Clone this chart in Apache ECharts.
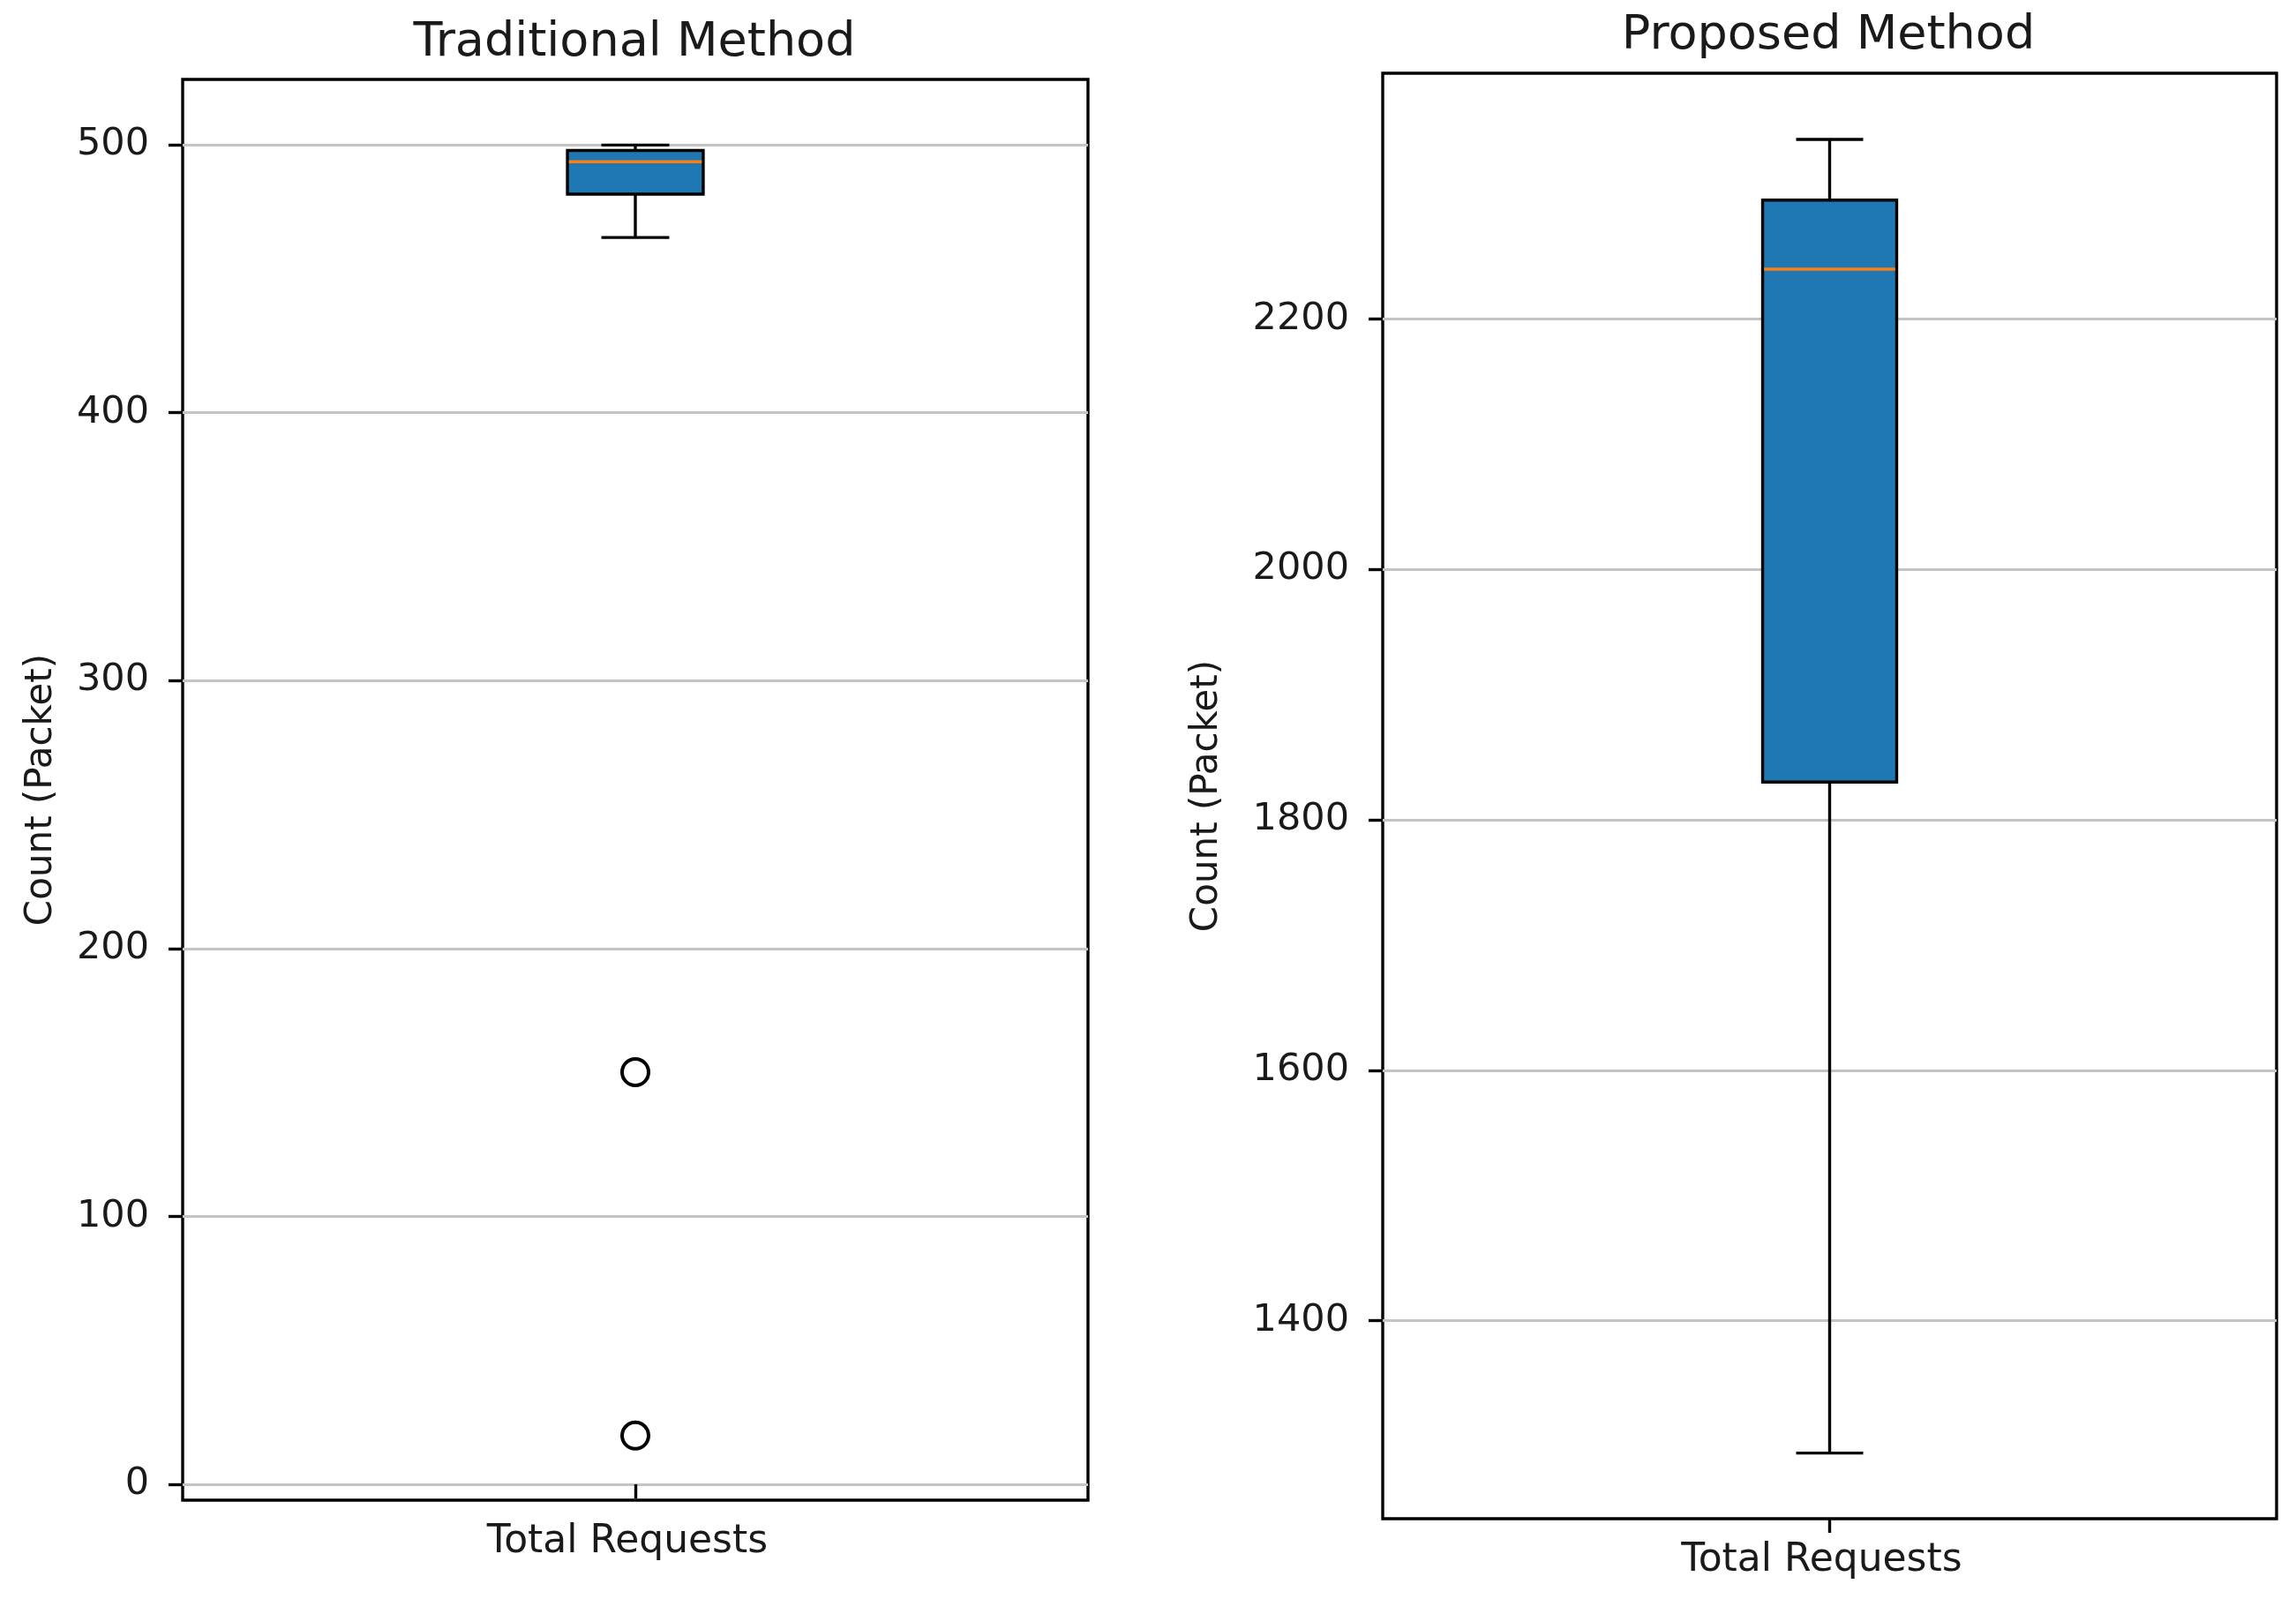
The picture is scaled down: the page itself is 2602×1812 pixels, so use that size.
<!DOCTYPE html>
<html><head><meta charset="utf-8">
<script src="https://cdn.jsdelivr.net/npm/echarts@6/dist/echarts.min.js"></script>
<style>html,body{margin:0;padding:0;background:#fff}#c{width:2602px;height:1812px}</style>
</head><body><div id="c"></div>
<script>
const categories = ['Total Requests'];
const titles = ['Traditional Method', 'Proposed Method'];
const yAxisName = 'Count (Packet)';
// [lower whisker, Q1, median, Q3, upper whisker]
const traditionalBox = [465.3, 481.5, 493.6, 497.8, 499.8];
const traditionalOutliers = [153.8, 18.2];
const proposedBox = [1294.3, 1830.2, 2239.8, 2294.9, 2343.4];
const proposedOutliers = [];
const traditionalTicks = [0, 100, 200, 300, 400, 500];
const proposedTicks = [1400, 1600, 1800, 2000, 2200];
const traditionalRange = [-5.9, 524.3];
const proposedRange = [1241.9, 2396.2];

const FONT = 'DejaVu Sans';
const TXT = '#1a1a1a';
const LW = 3.4;

function renderBox(params, api) {
  const c = api.value(0);
  const p = [1, 2, 3, 4, 5].map(i => api.coord([c, api.value(i)]));
  const cx = p[0][0];
  const band = api.size([1, 0])[0];
  const bw = band * 0.15;
  const cw = bw / 2;
  const blk = '#000';
  return {
    type: 'group',
    children: [
      {type: 'line', shape: {x1: cx, y1: p[1][1], x2: cx, y2: p[0][1]}, style: {stroke: blk, lineWidth: LW}},
      {type: 'line', shape: {x1: cx, y1: p[3][1], x2: cx, y2: p[4][1]}, style: {stroke: blk, lineWidth: LW}},
      {type: 'line', shape: {x1: cx - cw / 2, y1: p[0][1], x2: cx + cw / 2, y2: p[0][1]}, style: {stroke: blk, lineWidth: LW}},
      {type: 'line', shape: {x1: cx - cw / 2, y1: p[4][1], x2: cx + cw / 2, y2: p[4][1]}, style: {stroke: blk, lineWidth: LW}},
      {type: 'rect', shape: {x: cx - bw / 2, y: p[3][1], width: bw, height: p[1][1] - p[3][1]}, style: {fill: '#1f77b4', stroke: blk, lineWidth: LW}},
      {type: 'line', shape: {x1: cx - bw / 2 + LW / 2, y1: p[2][1], x2: cx + bw / 2 - LW / 2, y2: p[2][1]}, style: {stroke: '#ff7f0e', lineWidth: LW}}
    ]
  };
}

function xAxisFor(gi) {
  return {
    type: 'category', gridIndex: gi, data: categories, boundaryGap: true,
    axisLine: {show: false},
    axisTick: {show: true, alignWithLabel: true, length: 16, lineStyle: {color: '#000', width: LW}},
    axisLabel: {fontFamily: FONT, fontSize: 44, color: TXT, margin: 26, padding: [0, 18, 0, 0]},
    splitLine: {show: false}
  };
}
function yAxisFor(gi, range, ticks, gap) {
  return {
    type: 'value', gridIndex: gi, min: range[0], max: range[1],
    name: yAxisName, nameLocation: 'middle', nameRotate: 90, nameGap: gap,
    nameTextStyle: {fontFamily: FONT, fontSize: 42, color: TXT},
    axisLine: {show: false},
    axisTick: {show: true, length: 16, customValues: ticks, lineStyle: {color: '#000', width: LW}},
    axisLabel: {fontFamily: FONT, fontSize: 43, color: TXT, margin: 38, customValues: ticks, formatter: v => String(v)},
    splitLine: {show: true, lineStyle: {color: '#c4c4c4', width: 3}}
  };
}

const chart = echarts.init(document.getElementById('c'));
chart.setOption({
  animation: false,
  backgroundColor: '#fff',
  textStyle: {fontFamily: FONT},
  grid: [
    {left: 207, top: 90, width: 1026, height: 1610, show: true, borderColor: '#000', borderWidth: LW, backgroundColor: 'transparent', containLabel: false, outerBoundsMode: 'none'},
    {left: 1567, top: 83, width: 1013, height: 1638, show: true, borderColor: '#000', borderWidth: LW, backgroundColor: 'transparent', containLabel: false, outerBoundsMode: 'none'}
  ],
  xAxis: [xAxisFor(0), xAxisFor(1)],
  yAxis: [yAxisFor(0, traditionalRange, traditionalTicks, 139), yAxisFor(1, proposedRange, proposedTicks, 178)],
  graphic: [
    {type: 'text', x: 719, y: 49, style: {text: titles[0], fontFamily: FONT, fontSize: 54, fill: TXT, align: 'center', verticalAlign: 'middle'}},
    {type: 'text', x: 2072, y: 41, style: {text: titles[1], fontFamily: FONT, fontSize: 54, fill: TXT, align: 'center', verticalAlign: 'middle'}}
  ],
  series: [
    {type: 'custom', xAxisIndex: 0, yAxisIndex: 0, renderItem: renderBox, encode: {x: 0, y: [1, 2, 3, 4, 5]}, data: [[0].concat(traditionalBox)], z: 3},
    {type: 'custom', xAxisIndex: 1, yAxisIndex: 1, renderItem: renderBox, encode: {x: 0, y: [1, 2, 3, 4, 5]}, data: [[0].concat(proposedBox)], z: 3},
    {type: 'scatter', xAxisIndex: 0, yAxisIndex: 0, symbol: 'circle', symbolSize: 30, itemStyle: {color: 'rgba(0,0,0,0)', borderColor: '#000', borderWidth: 4, opacity: 1}, data: traditionalOutliers.map(v => [0, v]), z: 4},
    {type: 'scatter', xAxisIndex: 1, yAxisIndex: 1, symbol: 'circle', symbolSize: 30, itemStyle: {color: 'rgba(0,0,0,0)', borderColor: '#000', borderWidth: 4, opacity: 1}, data: proposedOutliers.map(v => [0, v]), z: 4}
  ]
});
</script></body></html>
